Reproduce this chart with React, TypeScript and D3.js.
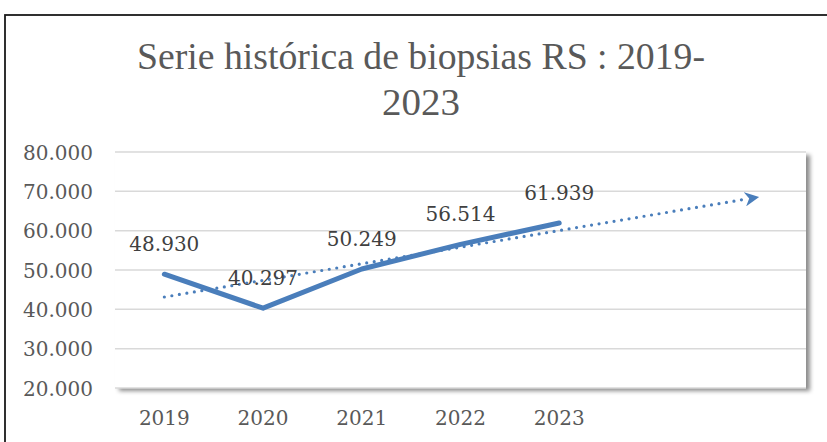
import React from "react";
import * as d3 from "d3";

const titleLines = ["Serie histórica de biopsias RS : 2019-", "2023"];
const categories = ["2019", "2020", "2021", "2022", "2023"];
const values = [48930, 40297, 50249, 56514, 61939];
const yTicks = [20000, 30000, 40000, 50000, 60000, 70000, 80000];
const forecastPeriods = 2;

const W = 827;
const H = 442;
const plot = { left: 115, right: 806, top: 152, bottom: 388 };
const blue = "#4a7ebb";
const fontFamily = "'DejaVu Serif', 'Liberation Serif', serif";

const locale = d3.formatLocale({ decimal: ",", thousands: ".", grouping: [3], currency: ["", ""] });
const fmt = locale.format(",d");

export default function App() {
  const slots = d3.range(categories.length + forecastPeriods).map(String);
  const x = d3.scaleBand<string>().domain(slots).range([plot.left, plot.right]).padding(0);
  const cx = (i: number) => (x(String(i)) as number) + x.bandwidth() / 2;
  const y = d3.scaleLinear().domain([20000, 80000]).range([plot.bottom, plot.top]);

  const pts: [number, number][] = values.map((v, i) => [cx(i), y(v)]);
  const line = d3.line<[number, number]>()(pts) as string;

  // linear trendline (least squares) extended forward
  const n = values.length;
  const xs = values.map((_, i) => i + 1);
  const mx = d3.mean(xs) as number;
  const my = d3.mean(values) as number;
  const slope =
    d3.sum(xs.map((xi, i) => (xi - mx) * (values[i] - my))) / d3.sum(xs.map((xi) => (xi - mx) ** 2));
  const intercept = my - slope * mx;
  const lastIdx = n - 1 + forecastPeriods;
  const t0: [number, number] = [cx(0), y(intercept + slope * 1)];
  const t1: [number, number] = [cx(lastIdx), y(intercept + slope * (lastIdx + 1))];
  const dx = t1[0] - t0[0];
  const dy = t1[1] - t0[1];
  const len = Math.hypot(dx, dy);
  const ux = dx / len;
  const uy = dy / len;
  const trendEnd: [number, number] = [t1[0] - ux * 9, t1[1] - uy * 9];

  return (
    <svg width={W} height={H} style={{ position: "absolute", left: 0, top: 0, background: "#fff" }}>
      <defs>
        <filter id="shadow" x="-5%" y="-5%" width="115%" height="120%">
          <feDropShadow dx="4" dy="3" stdDeviation="2" floodColor="#000" floodOpacity="0.45" />
        </filter>
        <marker id="arrow" viewBox="0 0 10 10" refX="2" refY="5" markerWidth="4.5" markerHeight="4.5" orient="auto" markerUnits="strokeWidth">
          <path d="M0,0 L10,5 L0,10 L3,5 Z" fill={blue} />
        </marker>
      </defs>
      <rect x={5} y={15} width={W + 20} height={H + 20} fill="#fff" stroke="#1a1a1a" strokeWidth={1.8} />

      {titleLines.map((t, i) => (
        <text
          key={i}
          x={421}
          y={69 + i * 46}
          textAnchor="middle"
          fontFamily="'Liberation Serif', serif"
          fontSize={37}
          fill="#595959"
          textLength={i === 0 ? 568 : 78}
          lengthAdjust="spacingAndGlyphs"
        >
          {t}
        </text>
      ))}

      <rect
        x={plot.left}
        y={plot.top}
        width={plot.right - plot.left}
        height={plot.bottom - plot.top}
        fill="#fff"
        filter="url(#shadow)"
      />
      {yTicks.map((t) => (
        <g key={t}>
          <line x1={plot.left} x2={plot.right} y1={y(t)} y2={y(t)} stroke="#d9d9d9" strokeWidth={1.5} />
          <text x={93} y={y(t) + 7.5} textAnchor="end" fontFamily={fontFamily} fontSize={20} fill="#595959">
            {fmt(t)}
          </text>
        </g>
      ))}
      {categories.map((c, i) => (
        <text key={c} x={cx(i)} y={425} textAnchor="middle" fontFamily={fontFamily} fontSize={20} fill="#595959">
          {c}
        </text>
      ))}

      <path d={line} fill="none" stroke={blue} strokeWidth={5} strokeLinejoin="round" strokeLinecap="round" />
      <line
        x1={t0[0]}
        y1={t0[1]}
        x2={trendEnd[0]}
        y2={trendEnd[1]}
        stroke={blue}
        strokeWidth={3.2}
        strokeDasharray="0 7.6"
        strokeLinecap="round"
        markerEnd="url(#arrow)"
      />

      {values.map((v, i) => (
        <text key={i} x={cx(i)} y={y(v) - 23} textAnchor="middle" fontFamily={fontFamily} fontSize={20} fill="#404040">
          {fmt(v)}
        </text>
      ))}
    </svg>
  );
}
